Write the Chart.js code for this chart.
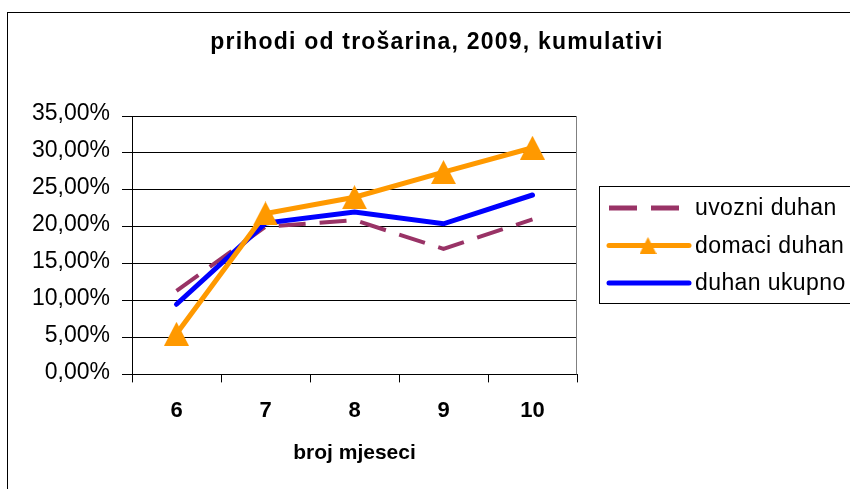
<!DOCTYPE html>
<html><head><meta charset="utf-8">
<script src="https://cdn.jsdelivr.net/npm/chart.js@4"></script>
<style>html,body{margin:0;padding:0;background:#fff;} canvas{display:block;}</style>
</head><body>
<canvas id="c" width="850" height="489"></canvas>
<script>
// ---- data ----
const months = ['6', '7', '8', '9', '10'];
const uvozniDuhan = [11.3, 20.0, 20.9, 17.0, 21.0];
const domaciDuhan = [5.5, 21.8, 24.0, 27.4, 30.7];
const duhanUkupno = [9.5, 20.5, 22.0, 20.4, 24.3];
const yTickValues = [0, 5, 10, 15, 20, 25, 30, 35];
const yTickLabels = ['0,00%', '5,00%', '10,00%', '15,00%', '20,00%', '25,00%', '30,00%', '35,00%'];
const seriesNames = ['uvozni duhan', 'domaci duhan', 'duhan ukupno'];
const chartTitle = 'prihodi od trošarina, 2009, kumulativi';
const xTitle = 'broj mjeseci';

const FONT = "'Liberation Sans', Arial, sans-serif";

function makeTriangle(w, h, color) {
  const c = document.createElement('canvas');
  c.width = w; c.height = h;
  const g = c.getContext('2d');
  g.fillStyle = color;
  g.beginPath();
  g.moveTo(w / 2, 0);
  g.lineTo(w, h);
  g.lineTo(0, h);
  g.closePath();
  g.fill();
  return c;
}
const triBig = makeTriangle(25, 24, '#FF9900');
const triSmall = makeTriangle(17, 17, '#FF9900');

const decorPlugin = {
  id: 'decor',
  beforeDraw(chart) {
    const ctx = chart.ctx;
    ctx.save();
    ctx.fillStyle = '#fff';
    ctx.fillRect(0, 0, chart.width, chart.height);
    ctx.strokeStyle = '#000';
    ctx.lineWidth = 1;
    ctx.strokeRect(7.5, 12.5, 900, 600);
    ctx.fillStyle = '#000';
    ctx.font = 'bold 23px ' + FONT;
    ctx.textAlign = 'center';
    ctx.textBaseline = 'alphabetic';
    try { ctx.letterSpacing = '1.2px'; } catch (e) {}
    ctx.fillText(chartTitle, 437, 49);
    ctx.restore();
  },
  beforeDatasetsDraw(chart) {
    const ctx = chart.ctx, a = chart.chartArea;
    ctx.save();
    ctx.strokeStyle = '#808080';
    ctx.lineWidth = 1;
    ctx.beginPath();
    ctx.moveTo(Math.round(a.right) - 0.5, a.top);
    ctx.lineTo(Math.round(a.right) - 0.5, a.bottom);
    ctx.stroke();
    ctx.restore();
  },
  afterDraw(chart) {
    const ctx = chart.ctx;
    ctx.save();
    ctx.strokeStyle = '#000';
    ctx.lineWidth = 1;
    ctx.strokeRect(599.5, 186.5, 400, 117);
    const rows = [208, 245.5, 283];
    chart.data.datasets.forEach((ds, i) => {
      const y = rows[i];
      ctx.save();
      ctx.strokeStyle = ds.borderColor;
      ctx.lineWidth = 5;
      ctx.lineCap = 'butt';
      if (ds.borderDash && ds.borderDash.length) {
        ctx.setLineDash([28, 14]);
        ctx.beginPath(); ctx.moveTo(609, y); ctx.lineTo(680, y); ctx.stroke();
      } else {
        ctx.lineCap = 'round';
        ctx.beginPath(); ctx.moveTo(609, y); ctx.lineTo(689, y); ctx.stroke();
      }
      ctx.restore();
      if (ds.pointRadius > 0) {
        ctx.drawImage(triSmall, 648 - 8.5, y - 8.5);
      }
      ctx.fillStyle = '#000';
      ctx.font = '23px ' + FONT;
      ctx.textAlign = 'left';
      ctx.textBaseline = 'alphabetic';
      try { ctx.letterSpacing = '0.4px'; } catch (e) {}
      ctx.fillText(ds.label, 695, y + 7);
    });
    ctx.restore();
  }
};

new Chart(document.getElementById('c'), {
  type: 'line',
  data: {
    labels: months,
    datasets: [
      {
        label: seriesNames[0], data: uvozniDuhan,
        borderColor: '#993366', borderWidth: 4, borderDash: [27, 14],
        pointRadius: 0, tension: 0, order: 3, fill: false
      },
      {
        label: seriesNames[1], data: domaciDuhan,
        borderColor: '#FF9900', backgroundColor: '#FF9900', borderWidth: 5,
        pointStyle: triBig, pointRadius: 12, tension: 0, order: 1, fill: false
      },
      {
        label: seriesNames[2], data: duhanUkupno,
        borderColor: '#0000FF', borderWidth: 5, borderCapStyle: 'round',
        pointRadius: 0, tension: 0, order: 2, fill: false
      }
    ]
  },
  options: {
    responsive: false,
    animation: false,
    devicePixelRatio: 1,
    layout: { padding: { left: 0, top: 116, right: 273, bottom: 13 } },
    plugins: { legend: { display: false }, title: { display: false }, tooltip: { enabled: false } },
    scales: {
      x: {
        type: 'category',
        offset: true,
        grid: { offset: true, drawOnChartArea: false, drawTicks: true, tickLength: 8, color: '#000', lineWidth: 1 },
        border: { display: true, color: '#000', width: 1 },
        ticks: { color: '#000', font: { family: FONT, size: 22, weight: 'bold' }, padding: 15, maxRotation: 0, autoSkip: false },
        title: { display: true, text: xTitle, color: '#000', font: { family: FONT, size: 21, weight: 'bold' }, padding: { top: 2, bottom: 10 } }
      },
      y: {
        min: 0, max: 35,
        afterBuildTicks: s => { s.ticks = yTickValues.map(v => ({ value: v })); },
        afterFit: s => { s.width = 132; },
        ticks: {
          callback: v => yTickLabels[yTickValues.indexOf(v)],
          color: '#000', font: { family: FONT, size: 23 }, padding: 12, labelOffset: -2
        },
        grid: { color: '#000', lineWidth: 1, tickLength: 10 },
        border: { display: true, color: '#000', width: 1 }
      }
    }
  },
  plugins: [decorPlugin]
});
</script>
</body></html>
